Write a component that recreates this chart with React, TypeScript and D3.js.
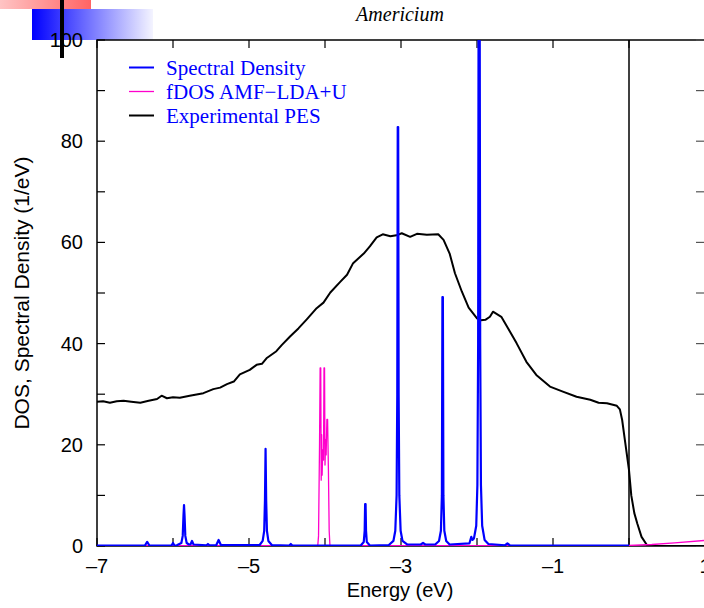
import React from "react";
import * as d3 from "d3";

// ---------- data ----------
const xTicks = [-7, -6, -5, -4, -3, -2, -1, 0, 1];
const xTickLabels = ["–7", "", "–5", "", "–3", "", "–1", "", "1"];
const yTicks = [0, 10, 20, 30, 40, 50, 60, 70, 80, 90, 100];
const yTickLabels = ["0", "", "20", "", "40", "", "60", "", "80", "", "100"];

const legendLabels = ["Spectral Density", "fDOS AMF\u2212LDA+U", "Experimental PES"];
const seriesColors = ["#0000ff", "#ff00cc", "#000000"];

// Experimental PES [energy, value]
const pesData: [number, number][] = [
  [-7.0, 28.5], [-6.92, 28.6], [-6.83, 28.3], [-6.74, 28.6], [-6.65, 28.7], [-6.55, 28.5],
  [-6.43, 28.3], [-6.32, 28.7], [-6.21, 29.05], [-6.15, 29.7], [-6.08, 29.2], [-6.0, 29.4],
  [-5.91, 29.3], [-5.78, 29.7], [-5.6, 30.2], [-5.47, 31.0], [-5.38, 31.3], [-5.29, 32.0],
  [-5.2, 32.5], [-5.12, 33.9], [-4.99, 34.8], [-4.9, 35.8], [-4.83, 36.0], [-4.77, 37.1],
  [-4.64, 38.5], [-4.57, 39.7], [-4.46, 41.4], [-4.35, 43.0], [-4.24, 44.8], [-4.11, 47.0],
  [-4.02, 48.1], [-3.93, 50.1], [-3.8, 52.2], [-3.71, 53.6], [-3.63, 55.9], [-3.49, 57.8],
  [-3.41, 59.2], [-3.32, 61.0], [-3.24, 61.6], [-3.14, 61.2], [-3.06, 61.4], [-2.99, 61.8],
  [-2.88, 61.1], [-2.79, 61.7], [-2.66, 61.5], [-2.51, 61.6], [-2.44, 60.5], [-2.36, 57.8],
  [-2.29, 53.9], [-2.2, 50.3], [-2.11, 47.1], [-2.0, 45.0], [-1.95, 44.6], [-1.89, 44.7],
  [-1.83, 45.3], [-1.79, 46.3], [-1.68, 45.3], [-1.59, 43.0], [-1.48, 40.1], [-1.35, 36.4],
  [-1.22, 33.8], [-1.04, 31.5], [-0.87, 30.5], [-0.69, 29.5], [-0.51, 28.9], [-0.4, 28.3],
  [-0.29, 28.2], [-0.16, 27.7], [-0.12, 27.0], [-0.09, 24.9], [-0.05, 20.5], [0.0, 15.0],
  [0.03, 10.0], [0.07, 6.5], [0.11, 4.4], [0.165, 1.8], [0.24, 0.1], [0.4, 0.0], [1.0, 0.0],
];

// fDOS AMF-LDA+U [energy, value]
const fdosData: [number, number][] = [
  [-7.0, 0.05], [-4.2, 0.05], [-4.095, 0.1], [-4.085, 2], [-4.072, 20], [-4.064, 35.2],
  [-4.056, 35.2], [-4.05, 13], [-4.044, 22], [-4.038, 14], [-4.03, 19], [-4.02, 17],
  [-4.013, 35.2], [-4.006, 35.2], [-4.0, 16], [-3.992, 21], [-3.985, 18], [-3.975, 25],
  [-3.966, 25], [-3.955, 15], [-3.945, 3], [-3.935, 0.1], [-3.8, 0.05], [0.0, 0.1],
  [0.3, 0.3], [0.6, 0.6], [1.0, 1.1],
];

// Spectral Density [energy, value]
const spectralData: [number, number][] = [
  [-7.0, 0.1], [-6.37, 0.1], [-6.34, 0.8], [-6.31, 0.1],
  [-6.02, 0.1], [-6.0, 0.6], [-5.98, 0.1],
  [-5.95, 0.15], [-5.89, 0.6], [-5.872, 2], [-5.862, 6], [-5.855, 8.1], [-5.848, 6],
  [-5.838, 2], [-5.82, 0.6], [-5.79, 0.3], [-5.77, 0.3], [-5.75, 1.0], [-5.73, 0.3],
  [-5.56, 0.15], [-5.54, 0.4], [-5.52, 0.15], [-5.43, 0.2], [-5.4, 1.2], [-5.37, 0.2],
  [-4.86, 0.2], [-4.82, 1], [-4.8, 3], [-4.79, 9], [-4.782, 19.2], [-4.774, 9],
  [-4.764, 3], [-4.745, 1], [-4.7, 0.2], [-4.47, 0.1], [-4.45, 0.4], [-4.43, 0.1],
  [-3.53, 0.1], [-3.49, 0.8], [-3.478, 3], [-3.472, 8.3], [-3.466, 8.3], [-3.46, 3],
  [-3.45, 0.8], [-3.41, 0.1],
  [-3.16, 0.2], [-3.1, 1], [-3.075, 3], [-3.058, 10], [-3.049, 30], [-3.043, 82.8],
  [-3.037, 82.8], [-3.031, 30], [-3.022, 10], [-3.005, 3], [-2.98, 1], [-2.92, 0.3],
  [-2.74, 0.3], [-2.71, 0.6], [-2.68, 0.3],
  [-2.55, 0.3], [-2.5, 1], [-2.475, 3], [-2.462, 10], [-2.455, 49.2], [-2.449, 49.2],
  [-2.442, 10], [-2.43, 3], [-2.405, 1], [-2.36, 0.3],
  [-2.1, 0.5], [-2.075, 1.8], [-2.06, 1.2], [-2.04, 1.5], [-2.01, 4], [-1.995, 12],
  [-1.985, 40], [-1.978, 120], [-1.966, 120], [-1.958, 40], [-1.948, 12], [-1.932, 4],
  [-1.9, 1.2], [-1.85, 0.4], [-1.63, 0.15], [-1.6, 0.5], [-1.57, 0.15], [0.0, 0.1],
];

// ---------- layout ----------
const W = 704;
const H = 608;
const left = 97;
const right = 705;
const top = 40;
const bottom = 546;

export default function App() {
  const x = d3.scaleLinear().domain([-7, 1]).range([left, right]);
  const y = d3.scaleLinear().domain([0, 100]).range([bottom, top]);
  const line = d3
    .line<[number, number]>()
    .x((d) => x(d[0]))
    .y((d) => y(d[1]));

  const sans = "'Liberation Sans', Arial, sans-serif";
  const serif = "'Liberation Serif', 'Times New Roman', serif";
  const tickLen = 8;

  return (
    <svg
      width={W}
      height={H}
      style={{ position: "absolute", left: 0, top: 0, background: "#fff" }}
    >
      <defs>
        <linearGradient id="gPink" x1="0" x2="1" y1="0" y2="0">
          <stop offset="0" stopColor="#ffc4c4" />
          <stop offset="1" stopColor="#ff6464" />
        </linearGradient>
        <linearGradient id="gBlue" x1="0" x2="1" y1="0" y2="0">
          <stop offset="0" stopColor="#0000ff" />
          <stop offset="1" stopColor="#f4f4ff" />
        </linearGradient>
        <clipPath id="plotClip">
          <rect x={left} y={top} width={right - left} height={bottom - top} />
        </clipPath>
      </defs>
      <rect x={0} y={0} width={W} height={H} fill="#fff" />

      {/* decorative corner */}
      <rect x={0} y={0} width={91} height={9} fill="url(#gPink)" />
      <rect x={32} y={9} width={121} height={31} fill="url(#gBlue)" />

      {/* title */}
      <text
        x={400}
        y={21}
        textAnchor="middle"
        fontFamily={serif}
        fontStyle="italic"
        fontSize={20}
      >
        Americium
      </text>

      {/* frame */}
      <rect
        x={left}
        y={top}
        width={right - left}
        height={bottom - top}
        fill="none"
        stroke="#000"
        strokeWidth={1.5}
      />

      {/* x ticks */}
      {xTicks.map((t, i) => (
        <g key={"xt" + i}>
          <line x1={x(t)} x2={x(t)} y1={bottom} y2={bottom - tickLen} stroke="#000" strokeWidth={1.2} />
          <line x1={x(t)} x2={x(t)} y1={top} y2={top + tickLen} stroke="#000" strokeWidth={1.2} />
          {xTickLabels[i] && (
            <text x={x(t)} y={573} textAnchor="middle" fontFamily={sans} fontSize={20}>
              {xTickLabels[i]}
            </text>
          )}
        </g>
      ))}

      {/* y ticks */}
      {yTicks.map((t, i) => (
        <g key={"yt" + i}>
          <line x1={left} x2={left + tickLen} y1={y(t)} y2={y(t)} stroke="#000" strokeWidth={1.2} />
          <line x1={right - 1} x2={right - 1 - tickLen} y1={y(t)} y2={y(t)} stroke="#555" strokeWidth={1.2} />
          {yTickLabels[i] && (
            <text x={83} y={y(t) + 7} textAnchor="end" fontFamily={sans} fontSize={20}>
              {yTickLabels[i]}
            </text>
          )}
        </g>
      ))}

      {/* black vertical bar (decorative) */}
      <rect x={60} y={0} width={4} height={58} fill="#000" />

      {/* Fermi level line */}
      <line x1={x(0)} x2={x(0)} y1={top} y2={bottom} stroke="#000" strokeWidth={1.5} />

      {/* series */}
      <g clipPath="url(#plotClip)">
        <path d={line(pesData) || ""} fill="none" stroke={seriesColors[2]} strokeWidth={2} strokeLinejoin="round" />
        <path d={line(fdosData) || ""} fill="none" stroke={seriesColors[1]} strokeWidth={1.3} strokeLinejoin="round" />
        <path d={line(spectralData) || ""} fill="none" stroke={seriesColors[0]} strokeWidth={2.2} strokeLinejoin="round" />
      </g>

      {/* legend */}
      {legendLabels.map((lab, i) => {
        const ly = 67.5 + i * 24;
        return (
          <g key={"lg" + i}>
            <line x1={129} x2={154} y1={ly} y2={ly} stroke={seriesColors[i]} strokeWidth={i === 1 ? 1.3 : 2} />
            <text x={166} y={ly + 7} fontFamily={serif} fontSize={21} fill="#0000ff">
              {lab}
            </text>
          </g>
        );
      })}

      {/* axis labels */}
      <text x={400} y={597} textAnchor="middle" fontFamily={sans} fontSize={20}>
        Energy (eV)
      </text>
      <text
        transform={`translate(29,${(top + bottom) / 2}) rotate(-90)`}
        textAnchor="middle"
        fontFamily={sans}
        fontSize={21}
      >
        DOS, Spectral Density (1/eV)
      </text>
    </svg>
  );
}
